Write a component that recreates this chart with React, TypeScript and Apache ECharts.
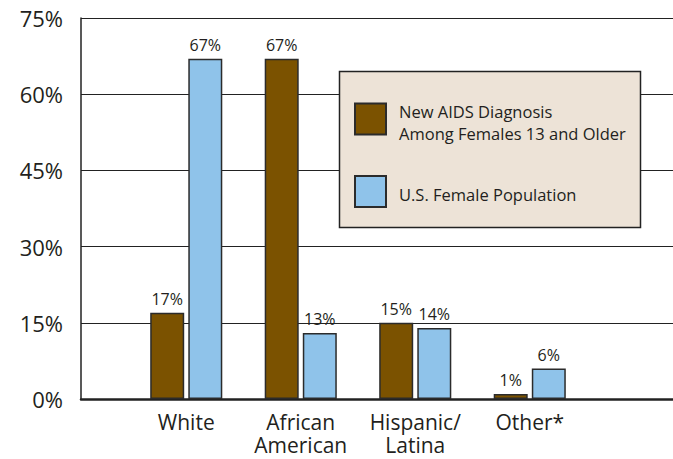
import React, { useEffect, useRef } from "react";
import * as echarts from "echarts";

const categories = ["White", "African\nAmerican", "Hispanic/\nLatina", "Other*"];
const aidsDiagnosis = [17, 67, 15, 1];
const femalePopulation = [67, 13, 14, 6];
const seriesNames = ["New AIDS Diagnosis\nAmong Females 13 and Older", "U.S. Female Population"];
const yTicks = { min: 0, max: 75, interval: 15 };

const FONT = "'Open Sans', 'Noto Sans', sans-serif";
const TEXT = "#231f20";
const LINE = "#222222";
const BROWN = "#7B5200";
const BLUE = "#8FC3EA";

export default function App() {
  const ref = useRef<HTMLDivElement>(null);
  useEffect(() => {
    if (!ref.current) return;
    const chart = echarts.init(ref.current, undefined, { renderer: "svg" });
    const barLabel = {
      show: true,
      position: "top" as const,
      distance: 6,
      formatter: "{c}%",
      fontSize: 16,
      fontFamily: FONT,
      color: TEXT,
    };
    chart.setOption({
      animation: false,
      backgroundColor: "#ffffff",
      textStyle: { fontFamily: FONT },
      grid: [
        { left: 81, right: 0, top: 18, bottom: 60 },
        { left: 129, width: 458, top: 18, bottom: 60 },
      ],
      xAxis: [
        {
          gridIndex: 0,
          type: "category",
          data: [""],
          axisLine: { show: true, lineStyle: { color: LINE, width: 2.5 } },
          axisTick: { show: false },
          axisLabel: { show: false },
          splitLine: { show: false },
        },
        {
          gridIndex: 1,
          type: "category",
          data: categories,
          axisLine: { show: false },
          axisTick: { show: false },
          axisLabel: {
            interval: 0,
            fontSize: 21,
            lineHeight: 23,
            fontFamily: FONT,
            color: TEXT,
            margin: 11,
          },
        },
      ],
      yAxis: [
        {
          gridIndex: 0,
          type: "value",
          min: yTicks.min,
          max: yTicks.max,
          interval: yTicks.interval,
          axisLine: { show: true, lineStyle: { color: LINE, width: 1.5 } },
          axisTick: { show: false },
          axisLabel: {
            formatter: "{value}%",
            fontSize: 22,
            fontFamily: FONT,
            color: TEXT,
            margin: 18,
          },
          splitLine: { show: true, lineStyle: { color: LINE, width: 1.2 } },
        },
        {
          gridIndex: 1,
          type: "value",
          min: yTicks.min,
          max: yTicks.max,
          interval: yTicks.interval,
          show: false,
          splitLine: { show: false },
        },
      ],
      legend: {
        show: true,
        orient: "vertical",
        left: 354,
        top: 96.5,
        padding: 0,
        itemWidth: 31,
        itemHeight: 31,
        itemGap: 33.5,
        z: 10,
        icon: "rect",
        formatter: (name: string) => "{t|" + name.split("\n").join("}\n{t|") + "}",
        textStyle: {
          fontSize: 16.5,
          lineHeight: 22,
          fontFamily: FONT,
          color: TEXT,
          padding: [0, 0, 0, 8],
          rich: {
            t: {
              fontSize: 16.5,
              lineHeight: 22,
              fontFamily: FONT,
              color: TEXT,
              padding: [6, 0, 0, 0],
            },
          },
        },
        data: seriesNames,
      },
      graphic: [
        {
          type: "rect",
          z: 9,
          shape: { x: 339.5, y: 71.5, width: 301, height: 156 },
          style: { fill: "#EDE3D7", stroke: LINE, lineWidth: 1.5 },
        },
      ],
      series: [
        {
          name: seriesNames[0],
          type: "bar",
          xAxisIndex: 1,
          yAxisIndex: 1,
          data: aidsDiagnosis,
          barWidth: 34,
          barGap: "12%",
          itemStyle: { color: BROWN, borderColor: "#2b2b2b", borderWidth: 1.5 },
          label: barLabel,
        },
        {
          name: seriesNames[1],
          type: "bar",
          xAxisIndex: 1,
          yAxisIndex: 1,
          data: femalePopulation,
          barWidth: 34,
          barGap: "12%",
          itemStyle: { color: BLUE, borderColor: "#2b2b2b", borderWidth: 1.5 },
          label: barLabel,
        },
      ],
    });
    return () => chart.dispose();
  }, []);
  return (
    <div
      ref={ref}
      style={{ position: "fixed", left: 0, top: 0, width: 673, height: 459 }}
    />
  );
}
